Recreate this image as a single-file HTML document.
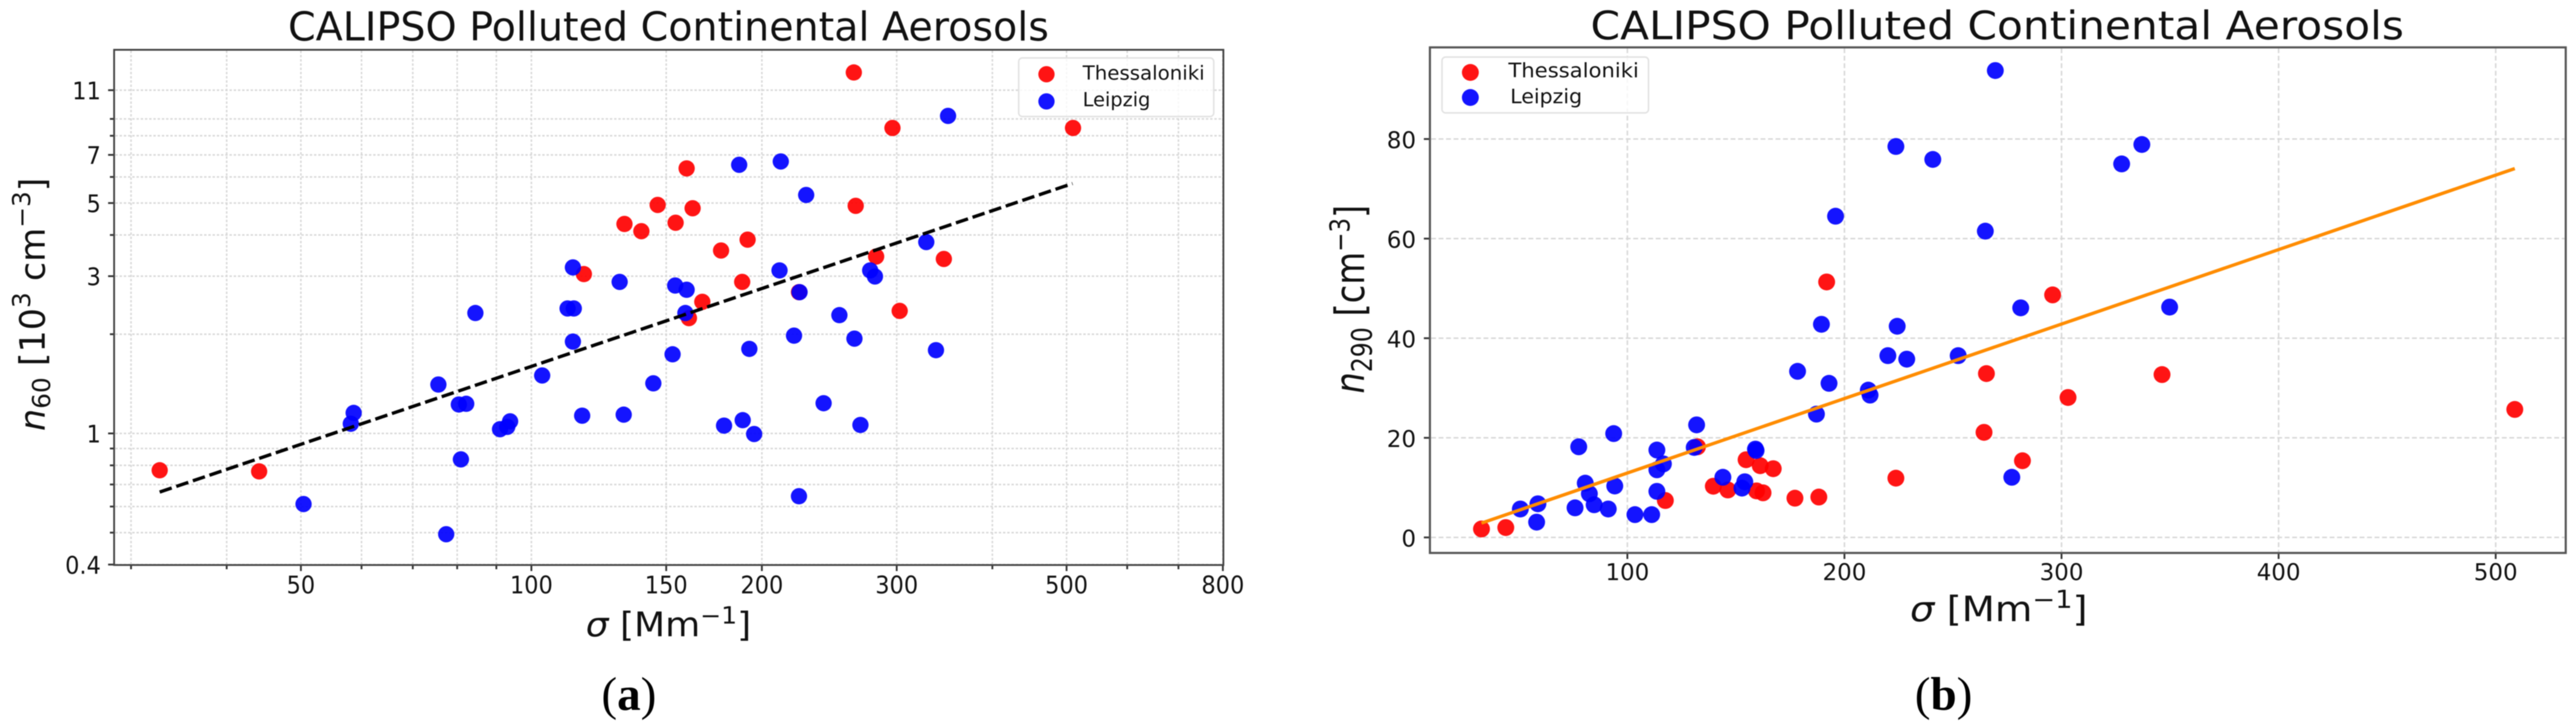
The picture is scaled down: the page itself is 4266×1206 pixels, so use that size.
<!DOCTYPE html>
<html lang="en">
<head>
<meta charset="utf-8">
<title>CALIPSO Polluted Continental Aerosols</title>
<style>
html,body{margin:0;padding:0;background:#fff;width:4266px;height:1206px;overflow:hidden}
svg{display:block;filter:blur(0.7px)}
text{font-family:"DejaVu Sans","Liberation Sans",sans-serif;fill:#111}
.cap{font-family:"Liberation Serif",serif;font-size:78px;fill:#000}
</style>
</head>
<body>
<svg id="fig" xmlns="http://www.w3.org/2000/svg" width="4266" height="1206" viewBox="0 0 4266 1206">
  <rect x="0" y="0" width="4266" height="1206" fill="#fff"/>

  <g id="panelA">
    <g id="gridA"></g>
    <g id="marksA"></g>
    <g id="ticksA"></g>
    <rect x="189" y="82.5" width="1837" height="853.5" fill="none" stroke="#444" stroke-width="3"/>
    <text x="477" y="67" font-size="66" textLength="1260" lengthAdjust="spacingAndGlyphs">CALIPSO Polluted Continental Aerosols</text>
    <text transform="translate(970,1054) scale(1.065,1)" font-size="56"><tspan font-style="italic">σ</tspan> [Mm<tspan font-size="39" dy="-21">−1</tspan><tspan dy="21">]</tspan></text>
    <text transform="translate(74,714) rotate(-90)" font-size="58"><tspan font-style="italic">n</tspan><tspan font-size="41" dy="9">60</tspan><tspan dy="-9"> [10</tspan><tspan font-size="41" dy="-24">3</tspan><tspan dy="24"> cm</tspan><tspan font-size="41" dy="-24">−3</tspan><tspan dy="24">]</tspan></text>
    <g>
      <rect x="1687" y="96" width="323" height="97" rx="6" fill="#fff" fill-opacity="0.8" stroke="#e2e2e2" stroke-width="2.5"/>
      <circle cx="1733" cy="123" r="13.5" fill="#f00" fill-opacity="0.92"/>
      <text x="1793" y="132" font-size="32" textLength="202" lengthAdjust="spacingAndGlyphs">Thessaloniki</text>
      <circle cx="1733" cy="168" r="13.5" fill="#00f" fill-opacity="0.92"/>
      <text x="1793" y="176" font-size="32" textLength="112" lengthAdjust="spacingAndGlyphs">Leipzig</text>
    </g>
    <text class="cap" x="996" y="1176">(<tspan font-weight="bold">a</tspan>)</text>
  </g>

  <g id="panelB">
    <g id="gridB"></g>
    <g id="marksB"></g>
    <g id="ticksB"></g>
    <rect x="2368" y="78.5" width="1881" height="837.5" fill="none" stroke="#555" stroke-width="3.5"/>
    <text x="2634" y="65" font-size="65" textLength="1347" lengthAdjust="spacingAndGlyphs">CALIPSO Polluted Continental Aerosols</text>
    <text transform="translate(3163,1029) scale(1.1,1)" font-size="58"><tspan font-style="italic">σ</tspan> [Mm<tspan font-size="41" dy="-22">−1</tspan><tspan dy="22">]</tspan></text>
    <text transform="translate(2259,652) rotate(-90) scale(1,1.2)" font-size="56"><tspan font-style="italic">n</tspan><tspan font-size="39" dy="11">290</tspan><tspan dy="-11"> [cm</tspan><tspan font-size="38" dy="-20">−3</tspan><tspan dy="20">]</tspan></text>
    <g>
      <rect x="2388" y="94.5" width="342" height="92.5" rx="6" fill="#fff" fill-opacity="0.8" stroke="#e2e2e2" stroke-width="2.5"/>
      <circle cx="2435" cy="120" r="14" fill="#f00" fill-opacity="0.92"/>
      <text x="2498" y="128" font-size="33" textLength="216" lengthAdjust="spacingAndGlyphs">Thessaloniki</text>
      <circle cx="2435" cy="161.5" r="14" fill="#00f" fill-opacity="0.92"/>
      <text x="2501" y="171" font-size="33" textLength="119" lengthAdjust="spacingAndGlyphs">Leipzig</text>
    </g>
    <text class="cap" x="3171" y="1176">(<tspan font-weight="bold">b</tspan>)</text>
  </g>
</svg>

<script>
// Panel (a) axis values
const aMajorX = [50, 100, 150, 200, 300, 500, 800];
const aMinorX = [30, 40, 60, 70, 80, 90, 400, 600, 700];
const aMajorY = [0.4, 1, 3, 5, 7, 11];
const aMinorY = [0.5, 0.6, 0.7, 0.8, 0.9, 2, 4, 6, 8, 9];

// Panel (a) series
const aThessSigma = [32.7, 44.1, 117.1, 132.3, 139.2, 146.2, 154.3, 159.5, 162.4, 176.9, 191.6, 188.5, 167.2, 160.6, 223.6, 263.7, 265.2, 296.2, 282.0, 345.7, 302.7, 509.8];
const aThessN = [0.773, 0.767, 3.044, 4.320, 4.107, 4.934, 4.357, 6.369, 4.821, 3.589, 3.872, 2.882, 2.508, 2.238, 2.683, 12.45, 4.903, 8.448, 3.441, 3.383, 2.354, 8.448];
const aLeipSigma = [50.4, 58.1, 58.6, 77.4, 75.6, 80.4, 82.2, 80.9, 91.0, 93.0, 93.8, 103.3, 116.5, 132.0, 144.3, 84.5, 111.5, 113.6, 113.3, 113.3, 130.4, 154.1, 159.5, 158.9, 186.8, 211.7, 228.5, 210.9, 224.0, 277.0, 281.0, 327.9, 350.1, 252.5, 220.3, 264.2, 192.6, 152.9, 337.6, 178.5, 188.8, 195.4, 240.8, 269.0, 223.6];
const aLeipN = [0.6105, 1.070, 1.154, 0.4945, 1.407, 1.224, 1.230, 0.8342, 1.030, 1.047, 1.088, 1.499, 1.132, 1.140, 1.419, 2.319, 2.394, 2.394, 1.899, 3.189, 2.882, 2.810, 2.728, 2.319, 6.532, 6.685, 5.290, 3.123, 2.683, 3.123, 2.994, 3.807, 9.191, 2.285, 1.980, 1.939, 1.805, 1.738, 1.789, 1.056, 1.097, 0.9958, 1.235, 1.061, 0.6449];
const aFitSigma = [32.7, 509];
const aFitN = [0.664, 5.73];

// Panel (b) axis values
const bMajorX = [100, 200, 300, 400, 500];
const bMajorY = [0, 20, 40, 60, 80];

// Panel (b) series
const bThessSigma = [32.8, 44.0, 117.5, 132.3, 139.6, 146.3, 154.7, 161.2, 167.2, 159.5, 162.5, 177.2, 188.2, 223.7, 295.9, 191.8, 265.4, 346.3, 303.0, 264.3, 282.0, 508.8];
const bThessN = [1.70, 1.98, 7.41, 18.2, 10.28, 9.53, 15.6, 14.4, 13.8, 9.34, 8.96, 7.88, 8.11, 11.9, 48.7, 51.3, 32.9, 32.7, 28.1, 21.1, 15.4, 25.7];
const bLeipSigma = [50.7, 58.8, 58.2, 75.9, 77.6, 80.6, 82.5, 84.7, 91.2, 94.2, 93.7, 103.5, 111.2, 113.6, 113.6, 116.6, 113.6, 130.8, 131.9, 144.0, 152.8, 154.1, 159.0, 159.3, 178.4, 187.1, 192.9, 211.0, 211.8, 189.4, 224.3, 195.9, 223.7, 240.7, 220.0, 228.7, 269.5, 337.0, 327.7, 264.9, 281.2, 349.8, 252.4, 277.1];
const bLeipN = [5.71, 6.75, 3.07, 5.94, 18.2, 10.9, 8.77, 6.56, 5.71, 10.33, 20.85, 4.58, 4.58, 9.25, 13.58, 14.76, 17.55, 18.07, 22.6, 12.08, 9.9, 11.18, 17.74, 17.45, 33.35, 24.76, 30.94, 29.58, 28.58, 42.8, 42.4, 64.5, 78.5, 75.9, 36.5, 35.8, 93.75, 78.9, 75.0, 61.5, 46.1, 46.25, 36.5, 12.08];
const bFitSigma = [32.8, 508.8];
const bFitN = [2.88, 74.07];

// Axis functions
function xA(v) { return 880 + 1268 * Math.log10(v / 100); }
function yA(v) { return 718 - 546 * Math.log10(v); }
function xB(v) { return 2695 + (v - 100) * 3.595; }
function yB(v) { return 890.3 - 8.25 * v; }

const NS = 'http://www.w3.org/2000/svg';
function mk(tag, parent, attrs) {
  const el = document.createElementNS(NS, tag);
  for (const k in attrs) el.setAttribute(k, attrs[k]);
  parent.appendChild(el);
  return el;
}

function drawGridV(parent, x, y0, y1, dash) {
  const el = mk('line', parent, {x1: x, x2: x, y1: y0, y2: y1, stroke: '#d8d8d8', 'stroke-width': 2.5, 'stroke-dasharray': dash});
  
  
}
function drawGridH(parent, y, x0, x1, dash) {
  const el = mk('line', parent, {x1: x0, x2: x1, y1: y, y2: y, stroke: '#d8d8d8', 'stroke-width': 2.5, 'stroke-dasharray': dash});
  
  
}
function drawTickX(parent, x, y, len) {
  const el = mk('line', parent, {x1: x, x2: x, y1: y, y2: y + len, stroke: '#333', 'stroke-width': 3});
  
  
}
function drawTickY(parent, x, y, len) {
  const el = mk('line', parent, {x1: x - len, x2: x, y1: y, y2: y, stroke: '#333', 'stroke-width': 3});
  
  
}
function drawLabelX(parent, x, y, txt, size, sx) {
  const el = mk('text', parent, {transform: 'translate(' + x + ',' + y + ') scale(' + sx + ',1)', 'text-anchor': 'middle', 'font-size': size});
  el.textContent = txt;
  
  
}
function drawLabelY(parent, x, y, txt, size, sx) {
  const el = mk('text', parent, {transform: 'translate(' + x + ',' + y + ') scale(' + sx + ',1)', 'text-anchor': 'end', 'font-size': size});
  el.textContent = txt;
  
  
}
function drawDots(parent, xs, ys, fx, fy, fill, r, name) {
  xs.forEach(function (v, i) {
    const el = mk('circle', parent, {cx: fx(v), cy: fy(ys[i]), r: r, fill: fill, 'fill-opacity': 0.92});
    
    
  });
}

// ---- Panel (a)
const gridA = document.getElementById('gridA');
const marksA = document.getElementById('marksA');
const ticksA = document.getElementById('ticksA');
aMajorX.concat(aMinorX).forEach(function (v) {
  drawGridV(gridA, xA(v), 84, 934, '4 3');
  drawTickX(ticksA, xA(v), 936, aMajorX.indexOf(v) >= 0 ? 10 : 7);
});
aMajorY.concat(aMinorY).forEach(function (v) {
  drawGridH(gridA, yA(v), 191, 2024, '4 3');
  drawTickY(ticksA, 189, yA(v), aMajorY.indexOf(v) >= 0 ? 10 : 7);
});
aMajorX.forEach(function (v) { drawLabelX(ticksA, xA(v), 983, String(v), 40, 0.93); });
aMajorY.forEach(function (v) { drawLabelY(ticksA, 167, yA(v) + 15, String(v), 40, 0.93); });
drawDots(marksA, aThessSigma, aThessN, xA, yA, '#f00', 13.5, 'thessaloniki-point');
drawDots(marksA, aLeipSigma, aLeipN, xA, yA, '#00f', 13.5, 'leipzig-point');
const fitLineA = mk('line', marksA, {x1: xA(aFitSigma[0]), y1: yA(aFitN[0]), x2: xA(aFitSigma[1]), y2: yA(aFitN[1]), stroke: '#000', 'stroke-width': 5.5, 'stroke-dasharray': '21 8'});



// ---- Panel (b)
const gridB = document.getElementById('gridB');
const marksB = document.getElementById('marksB');
const ticksB = document.getElementById('ticksB');
bMajorX.forEach(function (v) {
  drawGridV(gridB, xB(v), 80, 914, '8 4.4');
  drawTickX(ticksB, xB(v), 916, 10);
  drawLabelX(ticksB, xB(v), 961, String(v), 38, 1);
});
bMajorY.forEach(function (v) {
  drawGridH(gridB, yB(v), 2370, 4247, '8 4.4');
  drawTickY(ticksB, 2368, yB(v), 10);
  drawLabelY(ticksB, 2345, yB(v) + 15, String(v), 38, 1);
});
drawDots(marksB, bThessSigma, bThessN, xB, yB, '#f00', 14, 'thessaloniki-point');
drawDots(marksB, bLeipSigma, bLeipN, xB, yB, '#00f', 14, 'leipzig-point');
const fitLineB = mk('line', marksB, {x1: xB(bFitSigma[0]), y1: yB(bFitN[0]), x2: xB(bFitSigma[1]), y2: yB(bFitN[1]), stroke: '#ff8c00', 'stroke-width': 5.5});


</script>
</body>
</html>
